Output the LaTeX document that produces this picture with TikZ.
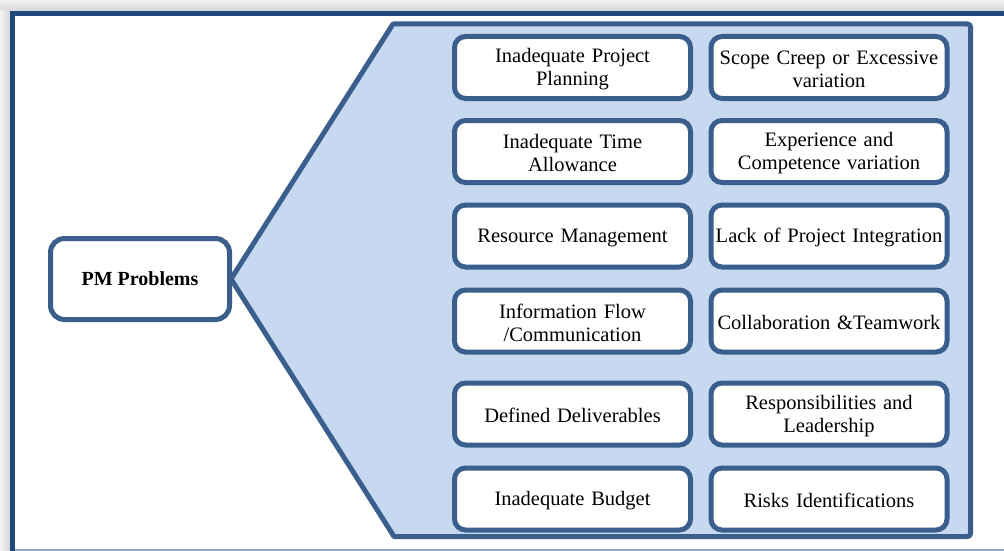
\documentclass[tikz,border=0pt]{standalone}
\usepackage{fontspec}
\setmainfont{Liberation Serif}
\definecolor{framec}{HTML}{22497C}
\definecolor{boxc}{HTML}{3A5F8C}
\definecolor{fillc}{HTML}{C6D9F1}
\definecolor{edgec}{HTML}{8EA9C9}
\tikzset{
  item/.style={draw=boxc, line width=5pt, fill=white, rounded corners=11pt,
    minimum width=236pt, minimum height=62pt, text width=236pt, inner xsep=0pt,
    inner ysep=0pt, align=center, font=\fontsize{20.5}{23}\selectfont,
    execute at begin node={\rule{0pt}{18pt}}},
  rootbox/.style={draw=boxc, line width=5pt, fill=white, rounded corners=14pt,
    minimum width=179pt, minimum height=81pt, inner sep=0pt,
    font=\fontsize{20}{23}\selectfont\bfseries}
}
\begin{document}
\begin{tikzpicture}[x=1pt,y=-1pt]
\useasboundingbox (0,0) rectangle (1004,551);
\clip (0,0) rectangle (1004,551);
% shadow background
\fill[gray!22] (0,0) rectangle (1004,551);
\shade[top color=gray!10, bottom color=gray!32] (0,0) rectangle (1004,11);
\shade[left color=gray!10, right color=gray!32] (0,11) rectangle (10,551);
% frame
\fill[white] (12.5,13.3) rectangle (1010,551);
\draw[edgec, line width=2pt] (12.5,549.5) -- (1010,549.5);
\draw[framec, line width=5pt] (12.5,553) -- (12.5,13.3) -- (1010,13.3);
% chevron panel
\draw[boxc, fill=fillc, line width=5pt, line join=round]
  (231,279) -- (393,24) -- (967,24) [rounded corners=3pt] -- (970.5,24) -- (970.5,536.5) [sharp corners] -- (394,536.5) -- cycle;
% root
\node[rootbox] (root) at (140,279) {PM Problems};
% items
\node[item] (a1) at (572.5,67.5) {Inadequate Project\\Planning};
\node[item] (b1) at (829,67.5) {Scope Creep or Excessive\\variation};
\node[item] (a2) at (572.5,151.5) {Inadequate Time\\Allowance};
\node[item] (b2) at (829,151.5) {Experience and\\Competence variation};
\node[item] (a3) at (572.5,236) {Resource Management};
\node[item] (b3) at (829,236) {Lack of Project Integration};
\node[item] (a4) at (572.5,321) {Information Flow\\/Communication};
\node[item] (b4) at (829,321) {Collaboration \&Teamwork};
\node[item] (a5) at (572.5,414) {Defined Deliverables};
\node[item] (b5) at (829,414) {Responsibilities and\\Leadership};
\node[item] (a6) at (572.5,499) {Inadequate Budget};
\node[item] (b6) at (829,499) {Risks Identifications};
\end{tikzpicture}
\end{document}
